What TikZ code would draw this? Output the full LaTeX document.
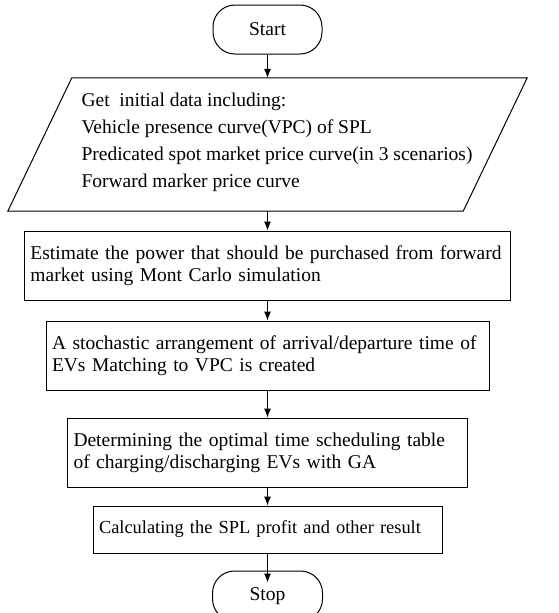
\documentclass[tikz,border=0pt]{standalone}
\usepackage{fontspec}
\setmainfont{Liberation Serif}
\usetikzlibrary{arrows.meta}

\begin{document}
\begin{tikzpicture}[x=1pt,y=-1pt,
  every node/.style={font=\fontsize{19.5}{22}\selectfont},
  procbox/.style={draw,line width=1pt,align=left,inner xsep=6pt,inner ysep=2pt},
  termbox/.style={draw,line width=1pt,rounded corners=22pt,minimum width=109pt,minimum height=49pt},
  flow/.style={line width=1pt,-{Latex[length=9pt,width=7pt]}}]

\useasboundingbox (0,0) rectangle (559,613);

\node [termbox] (start) at (267.5,29.5) {Start};

% input / data block
\node [minimum width=455pt,minimum height=133pt,inner sep=0pt] (data) at (267.5,144.5) {};
\draw [line width=1pt] ([xshift=32pt]data.north west) -- ([xshift=32pt]data.north east)
  -- ([xshift=-32pt]data.south east) -- ([xshift=-32pt]data.south west) -- cycle;
\node [align=left,anchor=west,font=\fontsize{19.5}{27}\selectfont] (datatext) at (78,142)
  {Get\ \ initial data including:\\
   Vehicle presence curve(VPC) of SPL\\
   Predicated spot market price curve(in 3 scenarios)\\
   Forward marker price curve};

\node [procbox,text width=474pt,minimum height=69pt] (estimate) at (267.5,265.5)
  {Estimate the power that should be purchased from forward\\ market using Mont Carlo simulation};
\node [procbox,text width=431pt,minimum height=69pt] (arrange) at (267.5,355.5)
  {A stochastic arrangement of arrival/departure time of\\ EVs Matching to VPC is created};
\node [procbox,text width=388pt,minimum height=69pt] (schedule) at (267.5,452.5)
  {Determining the optimal time scheduling table\\ of charging/discharging EVs with GA};
\node [procbox,text width=337pt,minimum height=47pt,font=\fontsize{18.4}{22}\selectfont] (profit) at (267.5,529.5)
  {Calculating the SPL profit and other result};

\node [termbox,minimum width=110pt,minimum height=50pt] (stop) at (267.5,596) {Stop};

\draw [flow] (start) -- (data);
\draw [flow] (data) -- (estimate);
\draw [flow] (estimate) -- (arrange);
\draw [flow] (arrange) -- (schedule);
\draw [flow] (schedule) -- (profit);
\draw [flow] (profit) -- ([yshift=-12pt]stop.north); % tip runs into the stop box

\end{tikzpicture}
\end{document}
